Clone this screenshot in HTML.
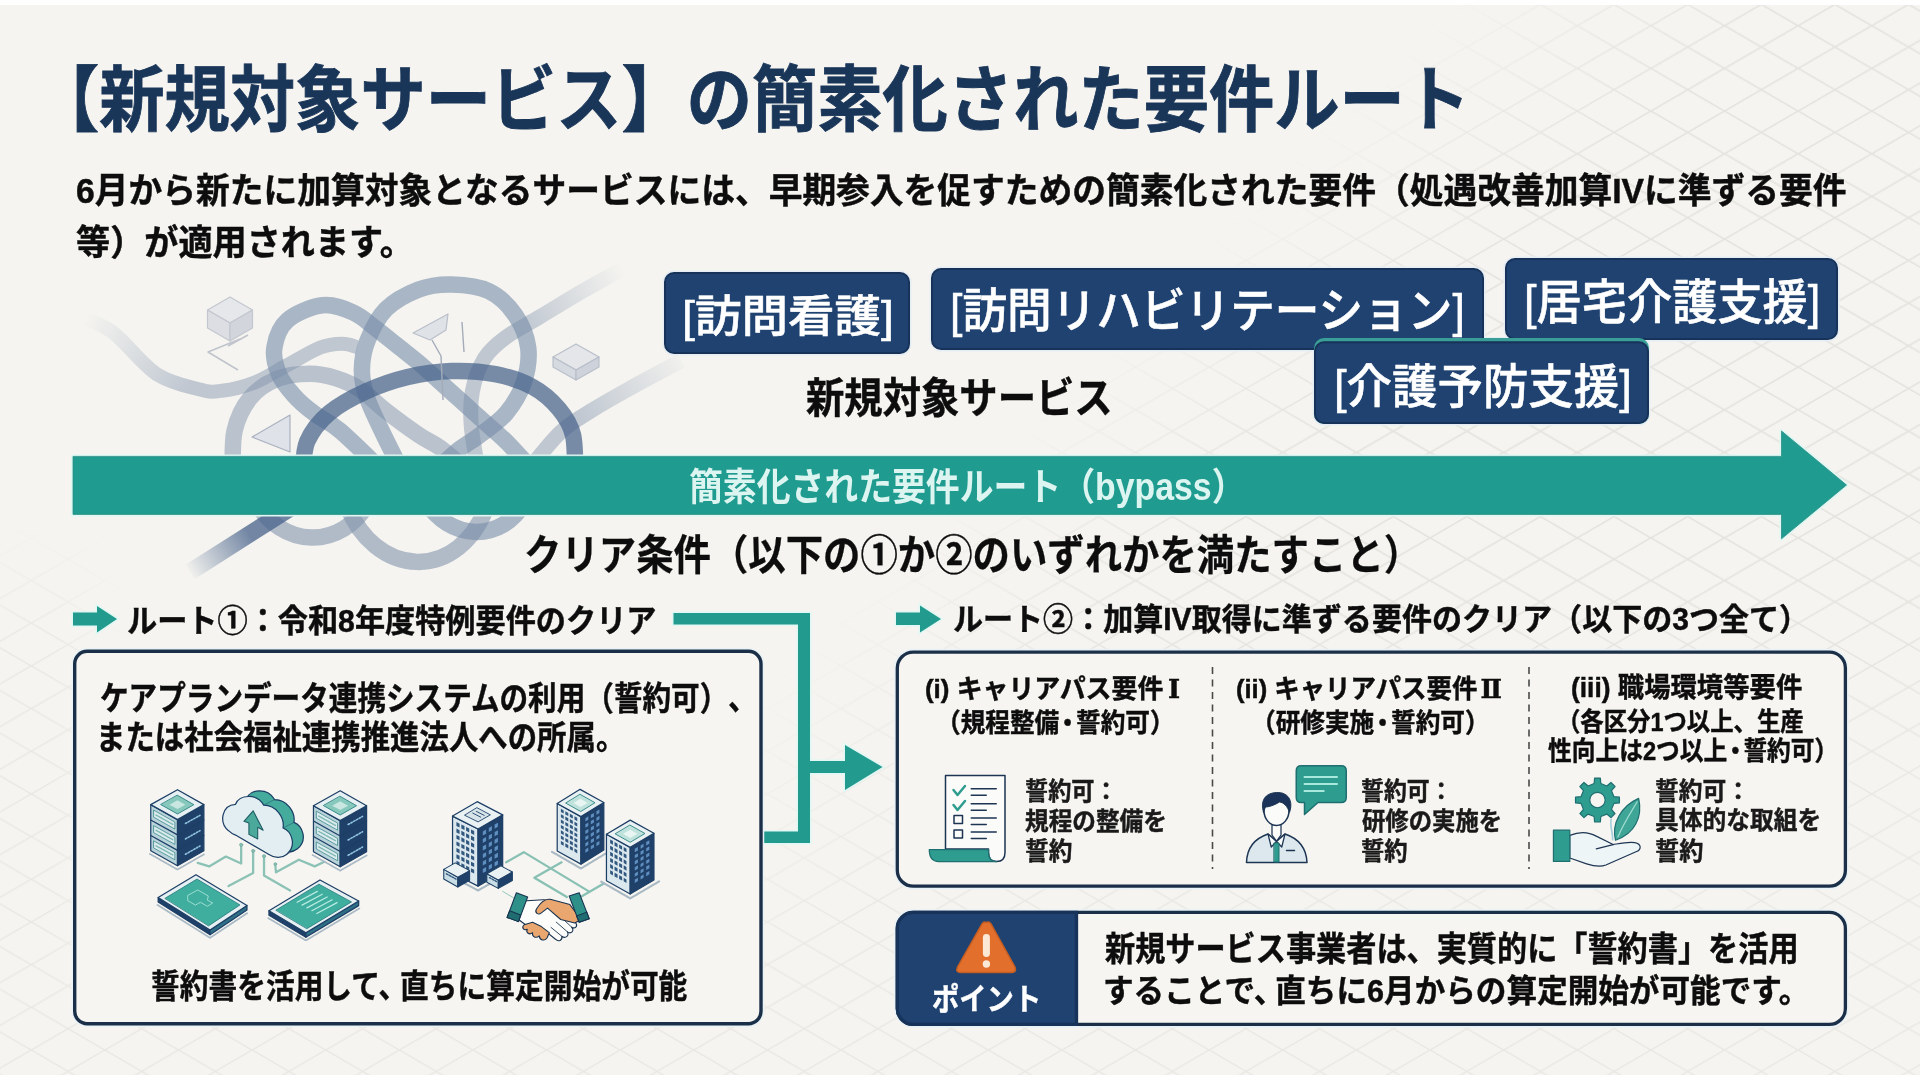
<!DOCTYPE html>
<html lang="ja">
<head>
<meta charset="utf-8">
<title>新規対象サービスの簡素化された要件ルート</title>
<style>
html,body{margin:0;padding:0;background:#fff;}
body{width:1920px;height:1080px;overflow:hidden;position:relative;font-family:"Liberation Sans","Noto Sans CJK JP",sans-serif;}
#slide{position:absolute;left:0;top:5px;width:1920px;height:1070px;background:#f5f4f0;}
#art{position:absolute;left:0;top:0;width:1920px;height:1080px;}
.t{position:absolute;white-space:nowrap;text-spacing-trim:space-all;line-height:1;transform-origin:0 0;letter-spacing:0;}
</style>
</head>
<body>
<div id="slide"></div>
<svg id="art" width="1920" height="1080" viewBox="0 0 1920 1080">
<defs>
  <pattern id="iso" width="73.62" height="42.68" patternUnits="userSpaceOnUse" patternTransform="translate(31.25,25.7)">
    <path d="M0 0 L73.62 42.68 M73.62 0 L0 42.68" stroke="#dfded9" stroke-width="1.5" fill="none"/>
  </pattern>
  <linearGradient id="gd1" gradientUnits="userSpaceOnUse" x1="725" y1="725" x2="885" y2="885"><stop offset="0" stop-color="#fff" stop-opacity="0"/><stop offset="1" stop-color="#fff" stop-opacity="1"/></linearGradient>
  <linearGradient id="gd2" gradientUnits="userSpaceOnUse" x1="0" y1="930" x2="0" y2="1030"><stop offset="0" stop-color="#fff" stop-opacity="0"/><stop offset="1" stop-color="#fff" stop-opacity="1"/></linearGradient>
  <linearGradient id="gd3" gradientUnits="userSpaceOnUse" x1="130" y1="0" x2="50" y2="0"><stop offset="0" stop-color="#fff" stop-opacity="0"/><stop offset="1" stop-color="#fff" stop-opacity="1"/></linearGradient>
  <linearGradient id="gd4" gradientUnits="userSpaceOnUse" x1="0" y1="520" x2="0" y2="640"><stop offset="0" stop-color="#000"/><stop offset="1" stop-color="#fff"/></linearGradient>
  <linearGradient id="gd5" gradientUnits="userSpaceOnUse" x1="0" y1="560" x2="0" y2="780"><stop offset="0" stop-color="#fff"/><stop offset="1" stop-color="#000"/></linearGradient>
  <mask id="gm5"><rect x="0" y="0" width="1920" height="1080" fill="url(#gd5)"/></mask>
  <mask id="gmask2"><rect x="0" y="0" width="1920" height="1080" fill="#000"/><rect x="0" y="0" width="1920" height="1080" fill="url(#gd1)" mask="url(#gm5)"/></mask>
  <mask id="gm3"><rect x="0" y="0" width="140" height="1080" fill="url(#gd4)"/></mask>
  <mask id="gmask"><rect x="0" y="0" width="1920" height="1080" fill="#000"/><rect x="0" y="0" width="1920" height="1080" fill="url(#gd1)"/><rect x="0" y="0" width="1920" height="1080" fill="url(#gd2)"/><rect x="0" y="0" width="140" height="1080" fill="url(#gd3)" mask="url(#gm3)"/></mask>
</defs>
<rect x="0" y="5" width="1920" height="1070" fill="url(#iso)" mask="url(#gmask)" opacity="0.55"/>
<rect x="0" y="5" width="1920" height="1070" fill="url(#iso)" mask="url(#gmask2)" opacity="0.5"/>
<defs>
  <linearGradient id="kf1" gradientUnits="userSpaceOnUse" x1="85" y1="318" x2="190" y2="385"><stop offset="0" stop-color="#8a9ab2" stop-opacity="0"/><stop offset="1" stop-color="#8a9ab2" stop-opacity="0.5"/></linearGradient>
  <linearGradient id="kf2" gradientUnits="userSpaceOnUse" x1="520" y1="325" x2="622" y2="268"><stop offset="0" stop-color="#8a9ab2" stop-opacity="0.5"/><stop offset="1" stop-color="#8a9ab2" stop-opacity="0"/></linearGradient>
  <linearGradient id="kf3" gradientUnits="userSpaceOnUse" x1="580" y1="420" x2="690" y2="355"><stop offset="0" stop-color="#8a9ab2" stop-opacity="0.5"/><stop offset="1" stop-color="#8a9ab2" stop-opacity="0"/></linearGradient>
  <linearGradient id="kf4" gradientUnits="userSpaceOnUse" x1="188" y1="573" x2="250" y2="535"><stop offset="0" stop-color="#47628b" stop-opacity="0"/><stop offset="1" stop-color="#47628b" stop-opacity="0.75"/></linearGradient>
  <clipPath id="kclip"><rect x="60" y="255" width="700" height="245"/></clipPath>
</defs>
<g fill="none" stroke-width="16.5" stroke-linecap="butt" stroke-linejoin="round">
 <g clip-path="url(#kclip)">
  <path d="M77.5 314.7 C83.3 317.6 99.4 322.3 112.5 332.2 C125.6 342.0 141.7 364.2 156.2 373.8 C170.8 383.3 189.1 386.7 200.0 389.5 C210.9 392.4 212.8 392.0 221.9 390.8 C231.0 389.7 243.8 386.8 254.7 382.5 C265.6 378.2 276.6 370.8 287.5 365.0 C298.4 359.2 311.2 351.0 320.3 347.5 C329.4 344.0 336.1 343.9 342.2 343.8 C348.3 343.7 354.6 346.5 357.1 347.1" stroke="url(#kf1)" stroke-width="14"/>
  <path d="M478.9 474.4 C477.7 466.4 472.4 440.1 471.3 426.3 C470.2 412.4 470.2 402.6 472.4 391.3 C474.6 380.0 478.8 367.5 484.4 358.4 C490.1 349.4 497.2 343.9 506.3 337.0 C515.4 330.2 526.3 325.0 539.1 317.3 C551.9 309.7 568.3 299.5 582.8 291.1 C597.4 282.6 619.3 270.6 626.6 266.6" stroke="url(#kf2)" stroke-width="15"/>
  <path d="M528.2 470.0 C533.6 463.6 550.0 441.9 561.0 431.7 C571.9 421.6 582.8 416.1 593.8 409.2 C604.7 402.3 612.0 398.3 626.6 390.2 C641.2 382.1 672.2 365.6 681.3 360.6" stroke="url(#kf3)" stroke-width="15"/>
  <path d="M232.8 474.4 C233.1 467.1 231.6 443.4 234.6 430.6 C237.5 417.9 243.3 406.4 250.3 397.8 C257.3 389.3 266.7 383.2 276.6 379.2 C286.4 375.2 299.5 373.9 309.4 373.8 C319.2 373.6 327.3 375.6 335.6 378.1 C344.0 380.7 351.3 383.6 359.7 389.1 C368.1 394.5 376.1 403.3 386.0 411.0 C395.8 418.6 409.7 428.8 418.8 435.0 C427.9 441.2 432.6 442.3 440.6 448.1 C448.7 454.0 462.5 466.4 466.9 470.0" stroke="#8394ad" stroke-opacity="0.52"/>
  <path d="M381.6 470.0 C374.7 463.5 351.3 440.1 340.0 430.6 C328.7 421.2 321.4 419.0 313.8 413.1 C306.1 407.3 299.9 402.2 294.1 395.6 C288.2 389.1 282.0 381.8 278.8 373.8 C275.5 365.7 272.9 356.4 274.4 347.5 C275.8 338.6 279.5 327.2 287.5 320.2 C295.5 313.1 311.6 306.6 322.5 305.3 C333.5 304.0 344.4 308.7 353.1 312.5 C361.9 316.3 367.7 322.3 375.0 327.8 C382.3 333.3 389.6 339.5 396.9 345.3 C404.2 351.2 411.5 356.6 418.8 362.8 C426.1 369.0 433.4 375.9 440.6 382.5 C447.9 389.1 455.2 395.6 462.5 402.2 C469.8 408.8 477.1 415.3 484.4 421.9 C491.7 428.5 498.3 433.6 506.3 441.6 C514.3 449.6 528.2 465.3 532.5 470.0" stroke="#768ca8" stroke-opacity="0.6"/>
  <path d="M403.5 474.4 C399.8 467.1 387.8 443.8 381.6 430.6 C375.4 417.5 369.5 405.8 366.3 395.6 C363.0 385.4 361.7 378.5 361.9 369.4 C362.1 360.3 363.3 351.0 367.4 340.9 C371.4 330.9 377.4 317.8 386.0 309.2 C394.5 300.7 407.8 293.7 418.8 289.5 C429.7 285.4 439.9 284.2 451.6 284.5 C463.3 284.8 478.2 286.0 488.8 291.1 C499.4 296.1 508.5 305.3 515.0 314.7 C521.6 324.1 526.7 336.2 528.2 347.5 C529.6 358.8 527.4 371.6 523.8 382.5 C520.1 393.5 513.6 404.4 506.3 413.1 C499.0 421.9 488.0 428.8 480.0 435.0 C472.0 441.2 465.4 444.5 458.1 450.3 C450.9 456.2 439.9 466.7 436.3 470.0" stroke="#768ca8" stroke-opacity="0.6"/>
  <path d="M302.8 474.4 C303.6 468.9 302.8 451.8 307.2 441.6 C311.6 431.4 319.2 421.5 329.1 413.1 C338.9 404.8 353.1 397.3 366.3 391.3 C379.4 385.2 393.6 380.4 407.8 377.0 C422.1 373.7 437.0 371.6 451.6 371.1 C466.2 370.7 481.8 371.6 495.3 374.2 C508.8 376.8 522.0 381.1 532.5 386.9 C543.1 392.6 552.0 400.7 558.8 408.8 C565.5 416.8 570.3 424.1 573.0 435.0 C575.7 446.0 574.8 467.8 575.2 474.4" stroke="#47628b" stroke-opacity="0.72"/>
 </g>
 <path d="M255 500 C280 548 342 552 370 500" stroke="#8394ad" stroke-opacity="0.6"/>
 <path d="M345 500 C372 580 462 585 489 500" stroke="#8394ad" stroke-opacity="0.6"/>
 <path d="M425 500 C448 540 502 545 526 500" stroke="#768ca8" stroke-opacity="0.6"/>
 <path d="M190 572 L300 502" stroke="url(#kf4)" stroke-width="17"/>
</g>
<g stroke="#c3c7cf" stroke-width="1.2" stroke-linejoin="round">
 <path d="M230 297 L252.5 310 L230 323 L207.5 310 Z" fill="#e6e7ea"/>
 <path d="M207.5 310 L230 323 L230 341 L207.5 328 Z" fill="#dcdee3"/>
 <path d="M252.5 310 L230 323 L230 341 L252.5 328 Z" fill="#d2d5dc"/>
 <path d="M248 335 L228 346 M240 339 L208 352 L238 370" fill="none" stroke="#c0c4cc" stroke-width="1.6"/>
 <path d="M576 344 L599 357 L576 370 L553 357 Z" fill="#e4e6ea" stroke="#b9bfca"/>
 <path d="M553 357 L576 370 L576 380 L553 367 Z" fill="#d5d9e0" stroke="#b9bfca"/>
 <path d="M599 357 L576 370 L576 380 L599 367 Z" fill="#cdd2db" stroke="#b9bfca"/>
 <path d="M413 333 L448 314 L446 330 L430 340 Z" fill="#dfe2e7" stroke="#b9bfca"/>
 <path d="M462 322 L464 352 M432 340 L441 356 L443 400" fill="none" stroke="#a4acba" stroke-width="1.4"/>
 <path d="M252 437 L290 415 L290 452 Z" fill="#dfe2e8" stroke="#9aa3b5" stroke-opacity="0.8"/>
</g>
<!-- main teal arrow -->
<path d="M73 456.4 H1781.5 V431 L1846.5 485 L1781.5 538.8 V514.4 H73 Z" fill="#209b8f" stroke="#dff8f4" stroke-width="4" stroke-linejoin="round"/>
<path d="M73 456.4 H1781.5 V431 L1846.5 485 L1781.5 538.8 V514.4 H73 Z" fill="#209b8f" stroke="#2c8f87" stroke-width="0.8"/>
<!-- badges -->
<g fill="none" stroke="#e6edf3" stroke-width="5">
<rect x="665" y="273" width="244" height="80" rx="9"/>
<rect x="932" y="269" width="551" height="80" rx="9"/>
<rect x="1506" y="259" width="331" height="80" rx="9"/>
<rect x="1315" y="339.5" width="333" height="83.5" rx="9"/>
</g>
<g stroke="#17335a" stroke-width="2">
<rect x="665" y="273" width="244" height="80" rx="9" fill="#1f4271"/>
<rect x="932" y="269" width="551" height="80" rx="9" fill="#1f4271"/>
<rect x="1506" y="259" width="331" height="80" rx="9" fill="#1f4271"/>
</g>
<rect x="1314" y="338" width="335" height="86" rx="10" fill="#3a9f97"/>
<rect x="1315" y="342.3" width="333" height="80.7" rx="9" fill="#1f4271" stroke="#17335a" stroke-width="2"/>
<!-- route small arrows -->
<path d="M73 612.5 H97 V606 L117 619 L97 632.5 V625.5 H73 Z" fill="#239a8e" stroke="#e0f7f3" stroke-width="3" paint-order="stroke"/>
<path d="M896 612.5 H920 V605.5 L941 619 L920 632.5 V625 H896 Z" fill="#239a8e" stroke="#e0f7f3" stroke-width="3" paint-order="stroke"/>
<!-- connector -->
<path d="M673.5 613 H810 V761 H845 V745 L882.5 767 L845 790 V773 H810 V843 H762 V831.5 H798 V624.5 H673.5 Z" fill="#239a8e" stroke="#e0f7f3" stroke-width="3" paint-order="stroke"/>
<!-- boxes -->
<g fill="none" stroke="#e9f2f6" stroke-width="6.5">
<rect x="74.7" y="651.3" width="686.3" height="372.4" rx="12.5"/>
<rect x="897.3" y="652.1" width="948.1" height="234.1" rx="16"/>
<rect x="897.3" y="912.4" width="948.1" height="112" rx="16"/>
</g>
<rect x="74.7" y="651.3" width="686.3" height="372.4" rx="12.5" fill="#f6f5f1" stroke="#1b3048" stroke-width="3.4"/>
<rect x="897.3" y="652.1" width="948.1" height="234.1" rx="16" fill="#f6f5f1" stroke="#1b3048" stroke-width="3.3"/>
<g stroke="#4a4a4a" stroke-width="1.6" stroke-dasharray="7 5.5">
<path d="M1212.5 667 V869"/><path d="M1529 667 V869"/>
</g>
<!-- point box -->
<rect x="897.3" y="912.4" width="948.1" height="112" rx="16" fill="#f6f5f1" stroke="#1b3048" stroke-width="3.3"/>
<path d="M913.3 912.4 H1076.5 V1024.4 H913.3 A16 16 0 0 1 897.3 1008.4 V928.4 A16 16 0 0 1 913.3 912.4 Z" fill="#1f4271" stroke="#17335a" stroke-width="3.3"/>
<path d="M986.4 922.5 Q989 921 991 924 L1015 967 Q1017 972.6 1011 972.6 H961 Q955 972.6 957.5 967 L982 924 Q984 921 986.4 922.5 Z" fill="#e2702c" stroke="#c45d22" stroke-width="1.5"/>
<rect x="982.9" y="934" width="7" height="23" rx="3.4" fill="#fbe9d6"/>
<circle cx="986.4" cy="964" r="3.7" fill="#fbe9d6"/>
<g transform="translate(130,770) scale(0.17590)" stroke-linecap="round" stroke-linejoin="round">
<g fill="none" stroke="#8cc2b5" stroke-width="13">
<path d="M385 528 L450 548 L545 492 L632 532 L632 432"/>
<path d="M560 660 L700 585 L700 468"/>
<path d="M910 685 L762 600 L762 498"/>
<path d="M1105 522 L1050 548 L960 510 L830 582 L826 540"/>
</g>
<g fill="#8cc2b5" stroke="#6fa79c" stroke-width="4"><circle cx="632" cy="425" r="9"/><circle cx="700" cy="460" r="9"/><circle cx="762" cy="490" r="9"/><circle cx="826" cy="535" r="8"/></g>
<path d="M113 477 L270 566 L425 477" fill="none" stroke="#a9b9c4" stroke-width="10" stroke-dasharray="3 6"/>
<polygon points="118,197 270,282 270,544 118,459" fill="#b9d3da" stroke="#1d3f66" stroke-width="7" stroke-linejoin="round" />
<polygon points="270,282 420,197 420,459 270,544" fill="#1f4068" stroke="#1d3f66" stroke-width="7" stroke-linejoin="round" />
<polygon points="270,112 420,197 270,282 118,197" fill="#e6eff2" stroke="#1d3f66" stroke-width="7" stroke-linejoin="round" />
<path d="M118 284 L270 369 L420 284" fill="none" stroke="#1d3f66" stroke-width="7"/>
<path d="M118 372 L270 457 L420 372" fill="none" stroke="#1d3f66" stroke-width="7"/>
<polygon points="136,229 255,296 255,336 136,269" fill="#dcebee" stroke="#2a7f80" stroke-width="4"/>
<path d="M148 256 L243 309" stroke="#7fb9b4" stroke-width="8" stroke-dasharray="10 5"/>
<path d="M315 304 L398 258" stroke="#8fc3e0" stroke-width="9" stroke-dasharray="9 9"/>
<polygon points="136,317 255,383 255,423 136,357" fill="#dcebee" stroke="#2a7f80" stroke-width="4"/>
<path d="M148 343 L243 396" stroke="#7fb9b4" stroke-width="8" stroke-dasharray="10 5"/>
<path d="M315 392 L398 345" stroke="#8fc3e0" stroke-width="9" stroke-dasharray="9 9"/>
<polygon points="136,404 255,470 255,510 136,444" fill="#dcebee" stroke="#2a7f80" stroke-width="4"/>
<path d="M148 431 L243 483" stroke="#7fb9b4" stroke-width="8" stroke-dasharray="10 5"/>
<path d="M315 479 L398 432" stroke="#8fc3e0" stroke-width="9" stroke-dasharray="9 9"/>
<polygon points="270,144 363,197 270,250 176,197" fill="#86c8bc" stroke="#2a7f80" stroke-width="5" stroke-linejoin="round" />
<polygon points="270,172 315,197 270,222 224,197" fill="#c9e6e0" stroke="none" stroke-width="0" stroke-linejoin="round" />
<path d="M1038 483 L1195 572 L1350 483" fill="none" stroke="#a9b9c4" stroke-width="10" stroke-dasharray="3 6"/>
<polygon points="1043,203 1195,288 1195,550 1043,465" fill="#b9d3da" stroke="#1d3f66" stroke-width="7" stroke-linejoin="round" />
<polygon points="1195,288 1345,203 1345,465 1195,550" fill="#1f4068" stroke="#1d3f66" stroke-width="7" stroke-linejoin="round" />
<polygon points="1195,118 1345,203 1195,288 1043,203" fill="#e6eff2" stroke="#1d3f66" stroke-width="7" stroke-linejoin="round" />
<path d="M1043 290 L1195 375 L1345 290" fill="none" stroke="#1d3f66" stroke-width="7"/>
<path d="M1043 378 L1195 463 L1345 378" fill="none" stroke="#1d3f66" stroke-width="7"/>
<polygon points="1061,235 1180,302 1180,342 1061,275" fill="#dcebee" stroke="#2a7f80" stroke-width="4"/>
<path d="M1073 262 L1168 315" stroke="#7fb9b4" stroke-width="8" stroke-dasharray="10 5"/>
<path d="M1240 310 L1322 264" stroke="#8fc3e0" stroke-width="9" stroke-dasharray="9 9"/>
<polygon points="1061,323 1180,389 1180,429 1061,363" fill="#dcebee" stroke="#2a7f80" stroke-width="4"/>
<path d="M1073 349 L1168 402" stroke="#7fb9b4" stroke-width="8" stroke-dasharray="10 5"/>
<path d="M1240 398 L1322 351" stroke="#8fc3e0" stroke-width="9" stroke-dasharray="9 9"/>
<polygon points="1061,410 1180,476 1180,516 1061,450" fill="#dcebee" stroke="#2a7f80" stroke-width="4"/>
<path d="M1073 437 L1168 489" stroke="#7fb9b4" stroke-width="8" stroke-dasharray="10 5"/>
<path d="M1240 485 L1322 438" stroke="#8fc3e0" stroke-width="9" stroke-dasharray="9 9"/>
<polygon points="1195,150 1288,203 1195,256 1101,203" fill="#86c8bc" stroke="#2a7f80" stroke-width="5" stroke-linejoin="round" />
<polygon points="1195,178 1240,203 1195,228 1149,203" fill="#c9e6e0" stroke="none" stroke-width="0" stroke-linejoin="round" />
<path d="M560 345 C505 300 520 200 600 195 C620 140 720 130 760 200 C830 200 880 270 870 330 C920 350 950 430 890 480 C860 505 820 500 790 480 L600 370 C585 365 570 355 560 345 Z" transform="translate(62,-32)" fill="#45ab9d" stroke="#1d3f66" stroke-width="7"/>
<path d="M600 195 L662 163 M760 200 L822 168 M870 330 L932 298 M890 480 L952 448" stroke="#1d3f66" stroke-width="5" opacity="0.5"/>
<path d="M560 345 C505 300 520 200 600 195 C620 140 720 130 760 200 C830 200 880 270 870 330 C920 350 950 430 890 480 C860 505 820 500 790 480 L600 370 C585 365 570 355 560 345 Z" fill="#e3eef3" stroke="#1d3f66" stroke-width="7"/>
<path d="M700 232 L648 292 L676 302 L676 366 L726 392 L726 326 L757 342 Z" fill="#4aa99b" stroke="#1d5c63" stroke-width="6"/>
<path d="M156 767 L455 954 L669 812" fill="none" stroke="#a9b9c4" stroke-width="10" stroke-dasharray="3 6"/>
<polygon points="160,725 455,910 455,936 160,751" fill="#1f4068" stroke="#1d3f66" stroke-width="7" stroke-linejoin="round" />
<polygon points="455,910 665,770 665,796 455,936" fill="#2f6f86" stroke="#1d3f66" stroke-width="7" stroke-linejoin="round" />
<polygon points="160,725 375,595 665,770 455,910" fill="#e6eff2" stroke="#1d3f66" stroke-width="7" stroke-linejoin="round" />
<polygon points="200,729 381,620 625,767 448,885" fill="#3fae9f" stroke="#2a7f80" stroke-width="5" stroke-linejoin="round" />
<path d="M330 712 L385 682 L445 716 L440 740 L470 756 L440 775 L400 752 L372 768 L330 744 Z" fill="none" stroke="#a6e3d6" stroke-width="5"/>
<path d="M786 842 L1000 969 L1304 787" fill="none" stroke="#a9b9c4" stroke-width="10" stroke-dasharray="3 6"/>
<polygon points="790,800 1000,925 1000,951 790,826" fill="#1f4068" stroke="#1d3f66" stroke-width="7" stroke-linejoin="round" />
<polygon points="1000,925 1300,745 1300,771 1000,951" fill="#2f6f86" stroke="#1d3f66" stroke-width="7" stroke-linejoin="round" />
<polygon points="790,800 1080,625 1300,745 1000,925" fill="#e6eff2" stroke="#1d3f66" stroke-width="7" stroke-linejoin="round" />
<polygon points="831,796 1074,649 1259,750 1007,901" fill="#3fae9f" stroke="#2a7f80" stroke-width="5" stroke-linejoin="round" />
<path d="M950 752 L1065 690" stroke="#b9ece2" stroke-width="7"/><path d="M978 768 L1093 706" stroke="#b9ece2" stroke-width="7"/><path d="M1006 784 L1121 722" stroke="#b9ece2" stroke-width="7"/><path d="M1034 800 L1149 738" stroke="#b9ece2" stroke-width="7"/><path d="M1062 816 L1177 754" stroke="#b9ece2" stroke-width="7"/>
</g>
<g transform="translate(420,770) scale(0.17590)" stroke-linecap="round" stroke-linejoin="round">
<g fill="none" stroke="#88c0b3" stroke-width="13">
<path d="M490 525 L590 467 L960 690"/>
<path d="M805 525 L650 612 L835 722"/>
<path d="M1045 645 L920 718"/>
<path d="M470 690 L540 732" stroke-width="5"/>
</g>
<path d="M155 592 L330 685 L500 588" fill="none" stroke="#a9b9c4" stroke-width="12" stroke-dasharray="3 6"/>
<polygon points="185,262 330,335 330,660 185,587" fill="#dbe8ee" stroke="#1d3f66" stroke-width="7" stroke-linejoin="round" />
<polygon points="330,335 470,255 470,580 330,660" fill="#1f4068" stroke="#1d3f66" stroke-width="7" stroke-linejoin="round" />
<polygon points="325,180 470,255 330,335 185,262" fill="#e9f1f3" stroke="#1d3f66" stroke-width="7" stroke-linejoin="round" />
<polygon points="207,296 225,305 225,327 207,318" fill="#33587f"/>
<polygon points="235,310 253,319 253,341 235,332" fill="#33587f"/>
<polygon points="262,324 280,333 280,355 262,346" fill="#33587f"/>
<polygon points="290,338 308,347 308,369 290,360" fill="#33587f"/>
<polygon points="207,333 225,342 225,364 207,355" fill="#33587f"/>
<polygon points="235,346 253,356 253,378 235,368" fill="#33587f"/>
<polygon points="262,360 280,369 280,391 262,382" fill="#33587f"/>
<polygon points="290,374 308,383 308,405 290,396" fill="#33587f"/>
<polygon points="207,369 225,378 225,400 207,391" fill="#33587f"/>
<polygon points="235,383 253,392 253,414 235,405" fill="#33587f"/>
<polygon points="262,397 280,406 280,428 262,419" fill="#33587f"/>
<polygon points="290,411 308,420 308,442 290,433" fill="#33587f"/>
<polygon points="207,406 225,415 225,437 207,428" fill="#33587f"/>
<polygon points="235,420 253,429 253,451 235,442" fill="#33587f"/>
<polygon points="262,434 280,443 280,465 262,456" fill="#33587f"/>
<polygon points="290,448 308,457 308,479 290,470" fill="#33587f"/>
<polygon points="207,443 225,452 225,474 207,465" fill="#33587f"/>
<polygon points="235,457 253,466 253,488 235,479" fill="#33587f"/>
<polygon points="262,470 280,479 280,501 262,492" fill="#33587f"/>
<polygon points="290,484 308,493 308,515 290,506" fill="#33587f"/>
<polygon points="207,479 225,488 225,510 207,501" fill="#33587f"/>
<polygon points="235,493 253,502 253,524 235,515" fill="#33587f"/>
<polygon points="262,507 280,516 280,538 262,529" fill="#33587f"/>
<polygon points="290,521 308,530 308,552 290,543" fill="#33587f"/>
<polygon points="207,516 225,525 225,547 207,538" fill="#33587f"/>
<polygon points="235,530 253,539 253,561 235,552" fill="#33587f"/>
<polygon points="262,544 280,553 280,575 262,566" fill="#33587f"/>
<polygon points="290,558 308,567 308,589 290,580" fill="#33587f"/>
<polygon points="357,349 376,338 376,362 357,372" fill="#5f8fc0"/>
<polygon points="391,330 409,319 409,343 391,353" fill="#5f8fc0"/>
<polygon points="424,310 443,300 443,323 424,334" fill="#5f8fc0"/>
<polygon points="357,392 376,381 376,404 357,415" fill="#5f8fc0"/>
<polygon points="391,372 409,362 409,385 391,396" fill="#5f8fc0"/>
<polygon points="424,353 443,343 443,366 424,377" fill="#5f8fc0"/>
<polygon points="357,434 376,424 376,447 357,458" fill="#5f8fc0"/>
<polygon points="391,415 409,405 409,428 391,439" fill="#5f8fc0"/>
<polygon points="424,396 443,385 443,409 424,419" fill="#5f8fc0"/>
<polygon points="357,477 376,467 376,490 357,501" fill="#5f8fc0"/>
<polygon points="391,458 409,447 409,471 391,481" fill="#5f8fc0"/>
<polygon points="424,439 443,428 443,452 424,462" fill="#5f8fc0"/>
<polygon points="357,520 376,509 376,533 357,543" fill="#5f8fc0"/>
<polygon points="391,501 409,490 409,514 391,524" fill="#5f8fc0"/>
<polygon points="424,481 443,471 443,494 424,505" fill="#5f8fc0"/>
<polygon points="357,563 376,552 376,576 357,586" fill="#5f8fc0"/>
<polygon points="391,543 409,533 409,556 391,567" fill="#5f8fc0"/>
<polygon points="424,524 443,514 443,537 424,548" fill="#5f8fc0"/>
<path d="M325 215 L400 255 L330 295 L255 258 Z" fill="#d6e4ea" stroke="#1d3f66" stroke-width="5"/><path d="M300 245 L345 268 M320 235 L365 258" stroke="#1d3f66" stroke-width="5"/>
<polygon points="135,565 215,610 215,665 135,620" fill="#c9dde4" stroke="#1d3f66" stroke-width="6" stroke-linejoin="round" />
<polygon points="215,610 282,572 282,627 215,665" fill="#1f4068" stroke="#1d3f66" stroke-width="6" stroke-linejoin="round" />
<polygon points="200,528 282,572 215,610 135,565" fill="#e9f1f3" stroke="#1d3f66" stroke-width="6" stroke-linejoin="round" />
<polygon points="380,590 445,625 445,673 380,638" fill="#c9dde4" stroke="#1d3f66" stroke-width="6" stroke-linejoin="round" />
<polygon points="445,625 525,580 525,628 445,673" fill="#1f4068" stroke="#1d3f66" stroke-width="6" stroke-linejoin="round" />
<polygon points="460,545 525,580 445,625 380,590" fill="#e9f1f3" stroke="#1d3f66" stroke-width="6" stroke-linejoin="round" />
<path d="M150 590 L205 620 M395 612 L435 634" stroke="#33587f" stroke-width="8" stroke-dasharray="10 8"/>
<path d="M750 465 L915 560 L1075 463" fill="none" stroke="#a9b9c4" stroke-width="12" stroke-dasharray="3 6"/>
<polygon points="780,190 915,265 915,535 780,460" fill="#dbe8ee" stroke="#1d3f66" stroke-width="7" stroke-linejoin="round" />
<polygon points="915,265 1045,185 1045,455 915,535" fill="#1f4068" stroke="#1d3f66" stroke-width="7" stroke-linejoin="round" />
<polygon points="910,110 1045,185 915,265 780,190" fill="#e9f1f3" stroke="#1d3f66" stroke-width="7" stroke-linejoin="round" />
<polygon points="801,220 817,230 817,248 801,239" fill="#33587f"/>
<polygon points="826,235 843,244 843,262 826,253" fill="#33587f"/>
<polygon points="852,249 869,258 869,276 852,267" fill="#33587f"/>
<polygon points="878,263 894,272 894,291 878,281" fill="#33587f"/>
<polygon points="801,251 817,260 817,278 801,269" fill="#33587f"/>
<polygon points="826,265 843,274 843,293 826,283" fill="#33587f"/>
<polygon points="852,279 869,289 869,307 852,298" fill="#33587f"/>
<polygon points="878,294 894,303 894,321 878,312" fill="#33587f"/>
<polygon points="801,281 817,291 817,309 801,300" fill="#33587f"/>
<polygon points="826,296 843,305 843,323 826,314" fill="#33587f"/>
<polygon points="852,310 869,319 869,337 852,328" fill="#33587f"/>
<polygon points="878,324 894,333 894,352 878,342" fill="#33587f"/>
<polygon points="801,312 817,321 817,339 801,330" fill="#33587f"/>
<polygon points="826,326 843,335 843,354 826,344" fill="#33587f"/>
<polygon points="852,340 869,350 869,368 852,359" fill="#33587f"/>
<polygon points="878,355 894,364 894,382 878,373" fill="#33587f"/>
<polygon points="801,342 817,352 817,370 801,361" fill="#33587f"/>
<polygon points="826,357 843,366 843,384 826,375" fill="#33587f"/>
<polygon points="852,371 869,380 869,398 852,389" fill="#33587f"/>
<polygon points="878,385 894,394 894,413 878,403" fill="#33587f"/>
<polygon points="801,373 817,382 817,400 801,391" fill="#33587f"/>
<polygon points="826,387 843,396 843,415 826,405" fill="#33587f"/>
<polygon points="852,401 869,411 869,429 852,420" fill="#33587f"/>
<polygon points="878,416 894,425 894,443 878,434" fill="#33587f"/>
<polygon points="801,403 817,412 817,431 801,422" fill="#33587f"/>
<polygon points="826,417 843,427 843,445 826,436" fill="#33587f"/>
<polygon points="852,432 869,441 869,459 852,450" fill="#33587f"/>
<polygon points="878,446 894,455 894,474 878,464" fill="#33587f"/>
<polygon points="940,274 957,263 957,283 940,293" fill="#5f8fc0"/>
<polygon points="971,255 989,244 989,264 971,274" fill="#5f8fc0"/>
<polygon points="1003,235 1020,225 1020,244 1003,255" fill="#5f8fc0"/>
<polygon points="940,309 957,299 957,318 940,329" fill="#5f8fc0"/>
<polygon points="971,290 989,280 989,299 971,310" fill="#5f8fc0"/>
<polygon points="1003,271 1020,260 1020,280 1003,290" fill="#5f8fc0"/>
<polygon points="940,345 957,334 957,354 940,364" fill="#5f8fc0"/>
<polygon points="971,326 989,315 989,335 971,345" fill="#5f8fc0"/>
<polygon points="1003,306 1020,296 1020,315 1003,326" fill="#5f8fc0"/>
<polygon points="940,380 957,370 957,389 940,400" fill="#5f8fc0"/>
<polygon points="971,361 989,351 989,370 971,381" fill="#5f8fc0"/>
<polygon points="1003,342 1020,331 1020,351 1003,362" fill="#5f8fc0"/>
<polygon points="940,416 957,405 957,425 940,436" fill="#5f8fc0"/>
<polygon points="971,397 989,386 989,406 971,416" fill="#5f8fc0"/>
<polygon points="1003,378 1020,367 1020,387 1003,397" fill="#5f8fc0"/>
<polygon points="940,452 957,441 957,461 940,471" fill="#5f8fc0"/>
<polygon points="971,432 989,422 989,441 971,452" fill="#5f8fc0"/>
<polygon points="1003,413 1020,403 1020,422 1003,433" fill="#5f8fc0"/>
<polygon points="911,139 995,186 914,236 830,189" fill="#bfe3dc" stroke="#2a7f80" stroke-width="5" stroke-linejoin="round" />
<polygon points="912,164 952,187 913,211 873,188" fill="#e8f5f2" stroke="none" stroke-width="0" stroke-linejoin="round" />
<path d="M1030 635 L1195 730 L1360 633" fill="none" stroke="#a9b9c4" stroke-width="12" stroke-dasharray="3 6"/>
<polygon points="1060,365 1195,440 1195,705 1060,630" fill="#dbe8ee" stroke="#1d3f66" stroke-width="7" stroke-linejoin="round" />
<polygon points="1195,440 1330,360 1330,625 1195,705" fill="#1f4068" stroke="#1d3f66" stroke-width="7" stroke-linejoin="round" />
<polygon points="1195,285 1330,360 1195,440 1060,365" fill="#e9f1f3" stroke="#1d3f66" stroke-width="7" stroke-linejoin="round" />
<polygon points="1081,395 1097,404 1097,425 1081,416" fill="#33587f"/>
<polygon points="1106,409 1123,419 1123,439 1106,430" fill="#33587f"/>
<polygon points="1132,424 1149,433 1149,454 1132,444" fill="#33587f"/>
<polygon points="1158,438 1174,447 1174,468 1158,459" fill="#33587f"/>
<polygon points="1081,430 1097,439 1097,460 1081,451" fill="#33587f"/>
<polygon points="1106,444 1123,453 1123,474 1106,465" fill="#33587f"/>
<polygon points="1132,458 1149,468 1149,489 1132,479" fill="#33587f"/>
<polygon points="1158,473 1174,482 1174,503 1158,494" fill="#33587f"/>
<polygon points="1081,465 1097,474 1097,495 1081,486" fill="#33587f"/>
<polygon points="1106,479 1123,488 1123,509 1106,500" fill="#33587f"/>
<polygon points="1132,493 1149,503 1149,524 1132,514" fill="#33587f"/>
<polygon points="1158,508 1174,517 1174,538 1158,529" fill="#33587f"/>
<polygon points="1081,500 1097,509 1097,530 1081,521" fill="#33587f"/>
<polygon points="1106,514 1123,523 1123,544 1106,535" fill="#33587f"/>
<polygon points="1132,528 1149,537 1149,558 1132,549" fill="#33587f"/>
<polygon points="1158,542 1174,552 1174,573 1158,563" fill="#33587f"/>
<polygon points="1081,535 1097,544 1097,565 1081,556" fill="#33587f"/>
<polygon points="1106,549 1123,558 1123,579 1106,570" fill="#33587f"/>
<polygon points="1132,563 1149,572 1149,593 1132,584" fill="#33587f"/>
<polygon points="1158,577 1174,587 1174,608 1158,598" fill="#33587f"/>
<polygon points="1081,570 1097,579 1097,600 1081,590" fill="#33587f"/>
<polygon points="1106,584 1123,593 1123,614 1106,605" fill="#33587f"/>
<polygon points="1132,598 1149,607 1149,628 1132,619" fill="#33587f"/>
<polygon points="1158,612 1174,622 1174,642 1158,633" fill="#33587f"/>
<polygon points="1221,448 1239,438 1239,457 1221,468" fill="#5f8fc0"/>
<polygon points="1254,429 1271,419 1271,438 1254,448" fill="#5f8fc0"/>
<polygon points="1286,410 1304,399 1304,419 1286,429" fill="#5f8fc0"/>
<polygon points="1221,483 1239,473 1239,492 1221,502" fill="#5f8fc0"/>
<polygon points="1254,464 1271,453 1271,473 1254,483" fill="#5f8fc0"/>
<polygon points="1286,445 1304,434 1304,453 1286,464" fill="#5f8fc0"/>
<polygon points="1221,518 1239,508 1239,527 1221,537" fill="#5f8fc0"/>
<polygon points="1254,499 1271,488 1271,508 1254,518" fill="#5f8fc0"/>
<polygon points="1286,480 1304,469 1304,488 1286,499" fill="#5f8fc0"/>
<polygon points="1221,553 1239,542 1239,562 1221,572" fill="#5f8fc0"/>
<polygon points="1254,534 1271,523 1271,542 1254,553" fill="#5f8fc0"/>
<polygon points="1286,515 1304,504 1304,523 1286,534" fill="#5f8fc0"/>
<polygon points="1221,588 1239,577 1239,597 1221,607" fill="#5f8fc0"/>
<polygon points="1254,569 1271,558 1271,577 1254,588" fill="#5f8fc0"/>
<polygon points="1286,549 1304,539 1304,558 1286,569" fill="#5f8fc0"/>
<polygon points="1221,623 1239,612 1239,631 1221,642" fill="#5f8fc0"/>
<polygon points="1254,604 1271,593 1271,612 1254,623" fill="#5f8fc0"/>
<polygon points="1286,584 1304,574 1304,593 1286,604" fill="#5f8fc0"/>
<polygon points="1195,314 1279,361 1195,411 1111,364" fill="#bfe3dc" stroke="#2a7f80" stroke-width="5" stroke-linejoin="round" />
<polygon points="1195,339 1236,362 1195,386 1154,363" fill="#e8f5f2" stroke="none" stroke-width="0" stroke-linejoin="round" />
<path d="M585 745 L700 738 C740 735 790 770 830 800 L885 868 C900 890 880 905 862 893 C880 915 858 935 838 920 C850 945 825 960 806 945 C812 968 788 980 770 962 L700 905 L600 880 L560 850 Z" fill="#fdfdfb" stroke="#17324f" stroke-width="6"/>
<path d="M862 893 L800 835 M838 920 L775 865 M806 945 L745 895" stroke="#17324f" stroke-width="5" fill="none"/>
<path d="M852 765 L740 735 C705 730 680 760 662 790 C650 812 672 828 690 812 L725 785 L800 850 L880 870 L915 850 Z" fill="#eaa66f" stroke="#17324f" stroke-width="6"/>
<path d="M592 880 C575 895 590 915 610 905 C600 925 622 940 640 925 C635 948 660 960 678 943 C680 968 708 975 722 955 L735 925 L690 890 L640 865 Z" fill="#eaa66f" stroke="#17324f" stroke-width="6"/>
<polygon points="548,698 612,722 560,862 495,838" fill="#2f9089" stroke="#17324f" stroke-width="6" stroke-linejoin="round" />
<polygon points="848,716 905,698 962,845 905,866" fill="#2f9089" stroke="#17324f" stroke-width="6" stroke-linejoin="round" />
<polygon points="510,800 572,824 560,862 495,838" fill="#1f6d70" stroke="#17324f" stroke-width="6" stroke-linejoin="round" />
<polygon points="890,830 948,808 962,845 905,866" fill="#1f6d70" stroke="#17324f" stroke-width="6" stroke-linejoin="round" />
</g>
<g transform="translate(890,640) scale(0.25)" stroke-linecap="round" stroke-linejoin="round">
<path d="M222 542 H460 V850 Q460 886 426 886 Q394 886 394 850 V836 H222 Z" fill="#fbfbf9" stroke="#1d3553" stroke-width="6"/>
<path d="M157 838 H394 V850 Q394 886 426 886 H195 Q157 886 157 838 Z" fill="#2f9c90" stroke="#1f6f70" stroke-width="5"/>
<path d="M254 600 L270 620 L300 584 M254 660 L270 680 L300 644" fill="none" stroke="#2f9c90" stroke-width="10"/>
<rect x="256" y="702" width="34" height="32" fill="none" stroke="#1d3553" stroke-width="6"/><rect x="256" y="760" width="34" height="32" fill="none" stroke="#1d3553" stroke-width="6"/>
<path d="M325 595 H425 M325 621 H385 M325 655 H425 M325 681 H385 M325 712 H425 M325 738 H385 M325 768 H425 M325 794 H385 " fill="none" stroke="#1d3553" stroke-width="6"/>
</g>
<g transform="translate(1200,640) scale(0.25)" stroke-linecap="round" stroke-linejoin="round">
<path d="M405 503 H565 Q585 503 585 523 V630 Q585 650 565 650 H472 L418 698 V650 H405 Q385 650 385 630 V523 Q385 503 405 503 Z" fill="#2f9c90" stroke="#1f6f70" stroke-width="6"/>
<path d="M418 548 H548 M418 576 H548 M418 604 H495" stroke="#a9e8dc" stroke-width="8" fill="none"/>
<path d="M186 890 C188 822 225 792 272 776 L306 806 L340 776 C388 792 425 822 428 890 Z" fill="#dce8ed" stroke="#1d3553" stroke-width="6"/>
<path d="M272 776 L306 806 L285 828 Z M340 776 L306 806 L327 828 Z" fill="#f7faf9" stroke="#1d3553" stroke-width="5"/>
<path d="M297 812 H316 V888 H297 Z" fill="#2f9c90" stroke="#1f6f70" stroke-width="4"/>
<path d="M346 842 H378" stroke="#1d3553" stroke-width="6"/>
<path d="M288 738 V780 L306 804 L324 780 V738 Z" fill="#fbfbf9" stroke="#1d3553" stroke-width="5"/>
<ellipse cx="306" cy="682" rx="50" ry="60" fill="#fbfbf9" stroke="#1d3553" stroke-width="6"/>
<path d="M254 690 C240 640 262 612 306 610 C350 608 375 640 358 690 C350 665 335 650 318 648 C300 660 275 668 262 668 C258 675 256 682 254 690 Z" fill="#1b3358" stroke="#1d3553" stroke-width="4"/>
</g>
<g transform="translate(1500,640) scale(0.24067)" stroke-linecap="round" stroke-linejoin="round">
<path d="M473.6 651.1 L496.2 653.1 L496.2 676.9 L473.6 678.9 L463.3 703.7 L477.9 721.1 L461.1 737.9 L443.7 723.3 L418.9 733.6 L416.9 756.2 L393.1 756.2 L391.1 733.6 L366.3 723.3 L348.9 737.9 L332.1 721.1 L346.7 703.7 L336.4 678.9 L313.8 676.9 L313.8 653.1 L336.4 651.1 L346.7 626.3 L332.1 608.9 L348.9 592.1 L366.3 606.7 L391.1 596.4 L393.1 573.8 L416.9 573.8 L418.9 596.4 L443.7 606.7 L461.1 592.1 L477.9 608.9 L463.3 626.3 Z M437 665 A32 32 0 1 0 373 665 A32 32 0 1 0 437 665 Z" fill="#2f9c90" fill-rule="evenodd" stroke="#1f6f70" stroke-width="5"/>
<path d="M462 745 C455 775 470 800 468 830" fill="none" stroke="#a8cfdc" stroke-width="7"/>
<path d="M480 832 C462 760 505 690 576 658 C594 735 560 805 480 832 Z" fill="#3fa597" stroke="#1f6f70" stroke-width="5"/>
<path d="M490 818 C515 760 545 715 570 672" fill="none" stroke="#9fdccf" stroke-width="5"/>
<path d="M290 812 C330 795 370 798 400 815 L470 850 C500 845 530 838 560 842 C590 848 588 872 565 880 L440 935 C415 945 390 940 360 930 L290 906 Z" fill="#eef5f7" stroke="#1d3553" stroke-width="5"/>
<path d="M400 868 L470 850" fill="none" stroke="#1d3553" stroke-width="5"/>
<rect x="222" y="790" width="68" height="130" fill="#2f9c90" stroke="#1f6f70" stroke-width="5"/>
</g>
</svg>
<span class="t" style="left:33.9px;top:65.1px;font-size:71.7px;font-weight:700;color:#193558;transform:scaleX(0.9106);-webkit-text-stroke:0.9px #193558">【新規対象サービス】の簡素化された要件ルート</span>
<span class="t" style="left:75.7px;top:173.3px;font-size:35.3px;font-weight:700;color:#0d0d0d;transform:scaleX(0.9560);-webkit-text-stroke:0.45px #0d0d0d">6月から新たに加算対象となるサービスには、早期参入を促すための簡素化された要件（処遇改善加算IVに準ずる要件</span>
<span class="t" style="left:76.3px;top:224.8px;font-size:35.3px;font-weight:700;color:#0d0d0d;transform:scaleX(0.9670);-webkit-text-stroke:0.45px #0d0d0d">等）が適用されます。</span>
<span class="t" style="left:681.7px;top:294.8px;font-size:43.9px;font-weight:500;color:#fff;transform:scaleX(1.0601);-webkit-text-stroke:0.55px #fff">[訪問看護]</span>
<span class="t" style="left:949.9px;top:286.8px;font-size:47.1px;font-weight:500;color:#fff;transform:scaleX(0.9478);-webkit-text-stroke:0.55px #fff">[訪問リハビリテーション]</span>
<span class="t" style="left:1523.8px;top:277.8px;font-size:48.1px;font-weight:500;color:#fff;transform:scaleX(0.9400);-webkit-text-stroke:0.55px #fff">[居宅介護支援]</span>
<span class="t" style="left:1333.8px;top:362.8px;font-size:47.1px;font-weight:500;color:#fff;transform:scaleX(0.9647);-webkit-text-stroke:0.55px #fff">[介護予防支援]</span>
<span class="t" style="left:806.2px;top:377.8px;font-size:41.7px;font-weight:700;color:#0d0d0d;transform:scaleX(0.9195);-webkit-text-stroke:0.45px #0d0d0d">新規対象サービス</span>
<span class="t" style="left:689.0px;top:467.8px;font-size:38.0px;font-weight:700;color:#dcf5f1;transform:scaleX(0.8905);-webkit-text-stroke:0.01px #dcf5f1">簡素化された要件ルート（bypass）</span>
<span class="t" style="left:524.0px;top:535.3px;font-size:41.7px;font-weight:700;color:#0d0d0d;transform:scaleX(0.8967);-webkit-text-stroke:0.3px #0d0d0d">クリア条件（以下の①か②のいずれかを満たすこと）</span>
<span class="t" style="left:126.8px;top:604.8px;font-size:32.1px;font-weight:700;color:#0d0d0d;transform:scaleX(0.9402);-webkit-text-stroke:0.45px #0d0d0d">ルート①：令和8年度特例要件のクリア</span>
<span class="t" style="left:953.3px;top:603.8px;font-size:31.0px;font-weight:700;color:#0d0d0d;transform:scaleX(0.9690);-webkit-text-stroke:0.45px #0d0d0d">ルート②：加算IV取得に準ずる要件のクリア（以下の3つ全て）</span>
<span class="t" style="left:99.6px;top:681.8px;font-size:33.2px;font-weight:700;color:#0d0d0d;transform:scaleX(0.8617);-webkit-text-stroke:0.45px #0d0d0d">ケアプランデータ連携システムの利用（誓約可）、</span>
<span class="t" style="left:96.3px;top:721.1px;font-size:33.2px;font-weight:700;color:#0d0d0d;transform:scaleX(0.8861);-webkit-text-stroke:0.45px #0d0d0d">または社会福祉連携推進法人への所属。</span>
<span class="t" style="left:150.8px;top:969.8px;font-size:33.2px;font-weight:700;color:#0d0d0d;transform:scaleX(0.8656);-webkit-text-stroke:0.45px #0d0d0d">誓約書を活用して<span style="margin-right:-0.25em">、</span>直ちに算定開始が可能</span>
<span class="t" style="left:924.7px;top:675.9px;font-size:26.7px;font-weight:700;color:#0d0d0d;transform:scaleX(0.9705);-webkit-text-stroke:0.45px #0d0d0d">(i) キャリアパス要件<span style="font-family:'DejaVu Serif',serif;font-size:1em;padding-left:0.18em">Ⅰ</span></span>
<span class="t" style="left:936.2px;top:709.9px;font-size:26.7px;font-weight:700;color:#0d0d0d;transform:scaleX(0.9238);-webkit-text-stroke:0.45px #0d0d0d">（規程整備<span style="margin:0 -0.16em">・</span>誓約可）</span>
<span class="t" style="left:1025.3px;top:808.9px;font-size:25.1px;font-weight:700;color:#1a1a1a;transform:scaleX(0.9422);-webkit-text-stroke:0.45px #1a1a1a">規程の整備を</span>
<span class="t" style="left:1024.6px;top:779.9px;font-size:24.6px;font-weight:700;color:#1a1a1a;transform:scaleX(0.9422);-webkit-text-stroke:0.45px #1a1a1a">誓約可：</span>
<span class="t" style="left:1024.6px;top:838.9px;font-size:25.1px;font-weight:700;color:#1a1a1a;transform:scaleX(0.9422);-webkit-text-stroke:0.45px #1a1a1a">誓約</span>
<span class="t" style="left:1235.7px;top:675.9px;font-size:26.7px;font-weight:700;color:#0d0d0d;transform:scaleX(0.9540);-webkit-text-stroke:0.45px #0d0d0d">(ii) キャリアパス要件<span style="font-family:'DejaVu Serif',serif;font-size:1em;padding-left:0.12em">Ⅱ</span></span>
<span class="t" style="left:1251.2px;top:709.9px;font-size:26.7px;font-weight:700;color:#0d0d0d;transform:scaleX(0.9238);-webkit-text-stroke:0.45px #0d0d0d">（研修実施<span style="margin:0 -0.16em">・</span>誓約可）</span>
<span class="t" style="left:1362.0px;top:808.9px;font-size:25.1px;font-weight:700;color:#1a1a1a;transform:scaleX(0.9304);-webkit-text-stroke:0.45px #1a1a1a">研修の実施を</span>
<span class="t" style="left:1361.1px;top:779.9px;font-size:24.6px;font-weight:700;color:#1a1a1a;transform:scaleX(0.9304);-webkit-text-stroke:0.45px #1a1a1a">誓約可：</span>
<span class="t" style="left:1361.1px;top:838.9px;font-size:25.1px;font-weight:700;color:#1a1a1a;transform:scaleX(0.9304);-webkit-text-stroke:0.45px #1a1a1a">誓約</span>
<span class="t" style="left:1570.7px;top:673.9px;font-size:27.8px;font-weight:700;color:#0d0d0d;transform:scaleX(0.9477);-webkit-text-stroke:0.45px #0d0d0d">(iii) 職場環境等要件</span>
<span class="t" style="left:1556.6px;top:709.9px;font-size:25.7px;font-weight:700;color:#0d0d0d;transform:scaleX(0.9097);-webkit-text-stroke:0.45px #0d0d0d">（各区分1つ以上、生産</span>
<span class="t" style="left:1547.5px;top:738.4px;font-size:26.7px;font-weight:700;color:#0d0d0d;transform:scaleX(0.8889);-webkit-text-stroke:0.45px #0d0d0d">性向上は2つ以上<span style="margin:0 -0.16em">・</span>誓約可）</span>
<span class="t" style="left:1655.2px;top:809.4px;font-size:24.6px;font-weight:700;color:#1a1a1a;transform:scaleX(0.9650);-webkit-text-stroke:0.45px #1a1a1a">具体的な取組を</span>
<span class="t" style="left:1655.0px;top:779.9px;font-size:24.6px;font-weight:700;color:#1a1a1a;transform:scaleX(0.9650);-webkit-text-stroke:0.45px #1a1a1a">誓約可：</span>
<span class="t" style="left:1654.9px;top:838.9px;font-size:25.1px;font-weight:700;color:#1a1a1a;transform:scaleX(0.9650);-webkit-text-stroke:0.45px #1a1a1a">誓約</span>
<span class="t" style="left:931.9px;top:983.8px;font-size:30.5px;font-weight:700;color:#fff;transform:scaleX(0.8951);-webkit-text-stroke:0.45px #fff">ポイント</span>
<span class="t" style="left:1105.4px;top:932.8px;font-size:33.7px;font-weight:700;color:#0d0d0d;transform:scaleX(0.8951);-webkit-text-stroke:0.45px #0d0d0d">新規サービス事業者は、実質的に「誓約書」を活用</span>
<span class="t" style="left:1103.2px;top:975.3px;font-size:32.1px;font-weight:700;color:#0d0d0d;transform:scaleX(0.9538);-webkit-text-stroke:0.45px #0d0d0d">することで<span style="margin-right:-0.3em">、</span>直ちに6月からの算定開始が可能です。</span>
</body>
</html>
